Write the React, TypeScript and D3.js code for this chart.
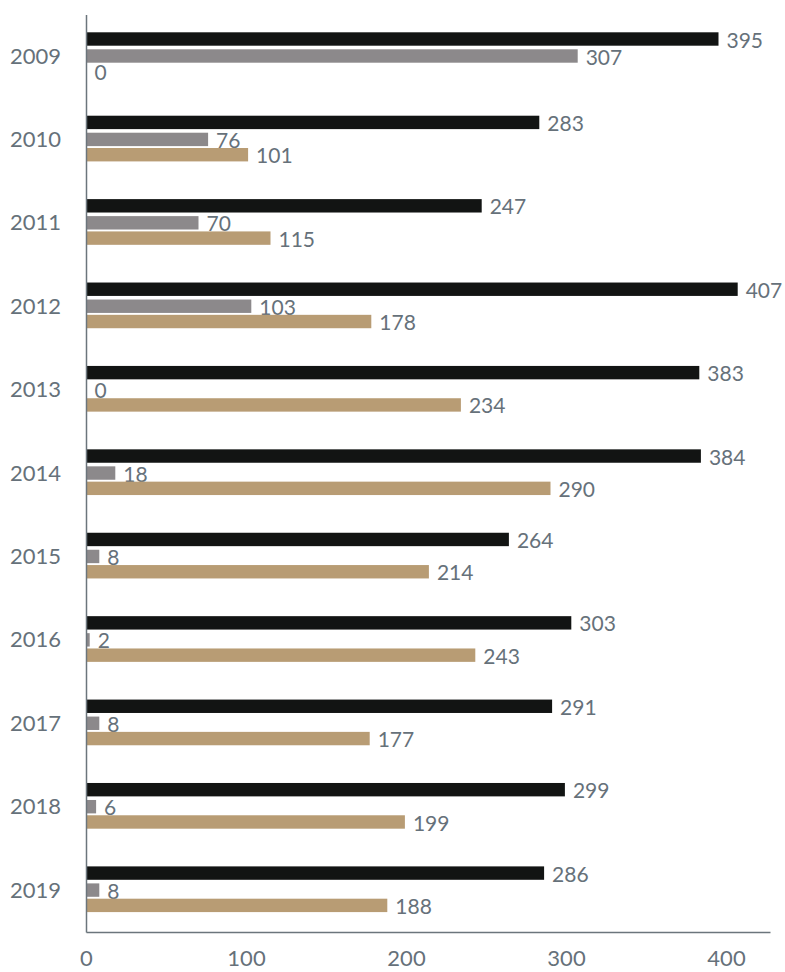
import React from "react";
import * as d3 from "d3";

const years = ["2009", "2010", "2011", "2012", "2013", "2014", "2015", "2016", "2017", "2018", "2019"];
const seriesA = [395, 283, 247, 407, 383, 384, 264, 303, 291, 299, 286];
const seriesB = [307, 76, 70, 103, 0, 18, 8, 2, 8, 6, 8];
const seriesC = [0, 101, 115, 178, 234, 290, 214, 243, 177, 199, 188];
const xTicks = [0, 100, 200, 300, 400];

const W = 785;
const H = 972;
const colors = ["#121413", "#8c898b", "#b89c74"];
const offsets = [17.3, 34.3, 49.6];
const barH = 13.4;
const textColor = "#66717a";
const font = "Lato, 'Open Sans', sans-serif";

export default function App() {
  const x = d3.scaleLinear().domain([0, 427.5]).range([86.5, 770.5]);
  const y = d3.scaleBand<string>().domain(years).range([15, 932.5]);
  const series = [seriesA, seriesB, seriesC];
  return (
    <svg width={W} height={H} style={{ position: "absolute", left: 0, top: 0, background: "#fff" }}>
      {years.map((yr, i) => (
        <g key={yr}>
          {series.map((s, k) => {
            const y0 = (y(yr) as number) + offsets[k];
            return (
              <g key={k}>
                <rect x={x(0)} y={y0} width={x(s[i]) - x(0)} height={barH} fill={colors[k]} />
                <text
                  x={x(s[i]) + 8}
                  y={y0 + barH / 2 + 1}
                  dy="0.36em"
                  fontSize={21}
                  fontFamily={font}
                  fill={textColor}
                >
                  {s[i]}
                </text>
              </g>
            );
          })}
          <text
            x={61}
            y={(y(yr) as number) + y.bandwidth() / 2 - 1}
            dy="0.36em"
            textAnchor="end"
            fontSize={22}
            fontFamily={font}
            fill={textColor}
          >
            {yr}
          </text>
        </g>
      ))}
      <line x1={x(0)} x2={x(0)} y1={15} y2={932.5} stroke="#6b757c" strokeWidth={1.5} />
      <line x1={x(0)} x2={770.5} y1={932.5} y2={932.5} stroke="#6b757c" strokeWidth={1.5} />
      {xTicks.map((t) => (
        <text
          key={t}
          x={x(t)}
          y={958}
          dy="0.36em"
          textAnchor="middle"
          fontSize={22}
          fontFamily={font}
          fill={textColor}
        >
          {t}
        </text>
      ))}
    </svg>
  );
}
